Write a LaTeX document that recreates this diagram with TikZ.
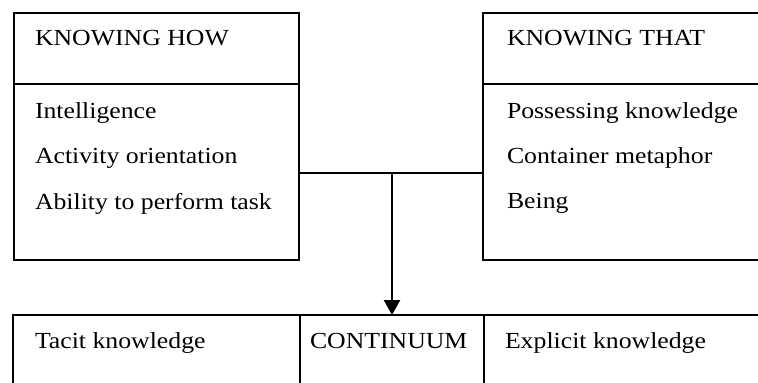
\documentclass[tikz,border=0pt]{standalone}
\usepackage{fontspec}
\setmainfont{Liberation Serif}[FakeStretch=1.12]
\usetikzlibrary{arrows.meta}

\tikzset{
  frame/.style={draw=black, line width=2.4pt, inner sep=0pt, outer sep=0pt, anchor=north west},
  label/.style={anchor=base west, inner sep=0pt, outer sep=0pt, font=\fontsize{23}{27}\selectfont},
  conn/.style={draw=black, line width=2.4pt},
}

\begin{document}
\begin{tikzpicture}[x=1pt, y=-1pt]
  \useasboundingbox (0,0) rectangle (758,383);
  \clip (0,0) rectangle (758,383);

  % Knowing how
  \node[frame, minimum width=285pt, minimum height=247pt] (how) at (14,13) {};
  \draw[conn] (14,84) -- (299,84);
  \node[label] (howh) at (35,45) {KNOWING HOW};
  \node[label] (how1) at (35,118) {Intelligence};
  \node[label] (how2) at (35,163) {Activity orientation};
  \node[label] (how3) at (35,209) {Ability to perform task};

  % Knowing that
  \node[frame, minimum width=330pt, minimum height=247pt] (that) at (483,13) {};
  \draw[conn] (483,84) -- (813,84);
  \node[label] (thath) at (507,45) {KNOWING THAT};
  \node[label] (that1) at (507,118) {Possessing knowledge};
  \node[label] (that2) at (507,163) {Container metaphor};
  \node[label] (that3) at (507,208) {Being};

  % Continuum row
  \node[frame, minimum width=287pt, minimum height=110pt] (tacit) at (13,315) {};
  \node[frame, minimum width=184pt, minimum height=110pt] (cont) at (300,315) {};
  \node[frame, minimum width=330pt, minimum height=110pt] (expl) at (484,315) {};
  \node[label] (tacitt) at (35,348) {Tacit knowledge};
  \node[label] (contt) at (310,348) {CONTINUUM};
  \node[label] (explt) at (505,348) {Explicit knowledge};

  % Connectors
  \coordinate (hub) at (392,173);
  \draw[conn] (how.east |- hub) -- (that.west |- hub);
  \draw[conn, -{Triangle[width=16pt, length=15pt]}] (hub) -- (hub |- cont.north);
\end{tikzpicture}
\end{document}
